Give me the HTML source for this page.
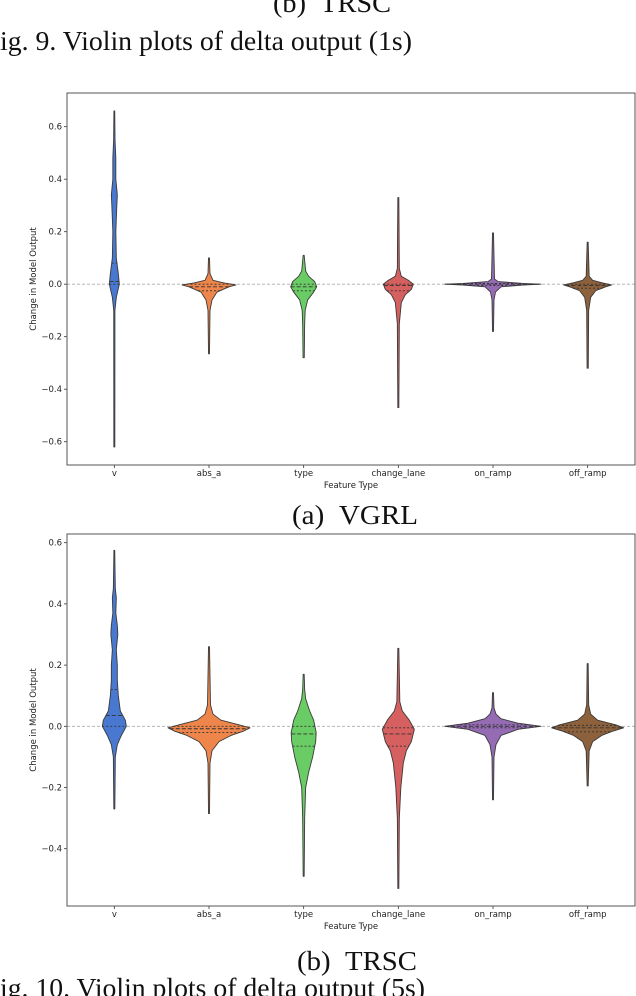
<!DOCTYPE html>
<html><head><meta charset="utf-8">
<style>
html,body{margin:0;padding:0;background:#fff;}
svg{display:block;}
.tick{font-family:"DejaVu Sans","Liberation Sans",sans-serif;font-size:8.5px;fill:#222;}
.cap{font-family:"Liberation Serif",serif;fill:#111;}
</style></head>
<body>
<svg id="fig" width="636" height="996" viewBox="0 0 636 996" xmlns="http://www.w3.org/2000/svg">
<text class="cap" x="273" y="12" font-size="27" textLength="118" lengthAdjust="spacingAndGlyphs">(b)&#160;&#160;TRSC</text>
<text class="cap" x="0" y="50" font-size="27" textLength="412" lengthAdjust="spacingAndGlyphs">ig. 9. Violin plots of delta output (1s)</text>
<text class="cap" x="292" y="524" font-size="27" textLength="126" lengthAdjust="spacingAndGlyphs">(a)&#160;&#160;VGRL</text>
<text class="cap" x="297" y="970" font-size="27" textLength="120" lengthAdjust="spacingAndGlyphs">(b)&#160;&#160;TRSC</text>
<text class="cap" x="0" y="997" font-size="27" textLength="425" lengthAdjust="spacingAndGlyphs">ig. 10. Violin plots of delta output (5s)</text>
<g id="p1"></g>
<g id="p2"></g>
</svg>
<script>
const categories = ["v","abs_a","type","change_lane","on_ramp","off_ramp"];
const colors = ["#4878d0","#ee854a","#6acc64","#d65f5f","#956cb4","#8c613c"];
// Plot 1 (VGRL, 1s): violin profiles [value, half-width]
const vgrlTicks = [-0.6,-0.4,-0.2,0.0,0.2,0.4,0.6];
const vgrlV = [[-0.62,0.5],[-0.1,0.6],[-0.05,2],[0,5],[0.04,4],[0.1,2],[0.2,1.5],[0.3,2.5],[0.34,3],[0.4,1.5],[0.48,1.5],[0.55,0.7],[0.66,0.4]];
const vgrlAbsA = [[-0.265,0.5],[-0.1,1],[-0.06,3],[-0.03,8],[-0.01,20],[-0.003,27],[0.005,15],[0.015,4],[0.04,1],[0.1,0.5]];
const vgrlType = [[-0.28,0.6],[-0.15,1],[-0.1,1.5],[-0.06,4],[-0.03,10],[-0.01,13],[0.01,11],[0.03,5],[0.05,2],[0.11,0.5]];
const vgrlChange = [[-0.47,0.5],[-0.15,1],[-0.07,3],[-0.04,7],[-0.02,13],[0,15],[0.015,10],[0.03,3],[0.06,1],[0.33,0.5]];
const vgrlOn = [[-0.18,0.5],[-0.06,1],[-0.03,2.5],[-0.01,8],[-0.003,30],[0,48],[0.003,30],[0.01,5],[0.02,1.5],[0.195,0.5]];
const vgrlOff = [[-0.32,0.6],[-0.1,1],[-0.05,3],[-0.025,8],[-0.01,18],[-0.003,24],[0.005,15],[0.015,5],[0.03,1.5],[0.16,0.5]];
const vgrlQuart = [[0.0,0.01,0.08],[-0.025,-0.01,0],[-0.025,-0.01,0],[-0.025,-0.005,0],[-0.005,0,0.003],[-0.015,-0.005,0]];
// Plot 2 (TRSC, 5s)
const trscTicks = [-0.4,-0.2,0.0,0.2,0.4,0.6];
const trscV = [[-0.27,0.5],[-0.1,1],[-0.06,3],[-0.03,7],[0,12],[0.02,11],[0.05,6],[0.1,4],[0.15,3],[0.2,3],[0.25,2],[0.3,3.5],[0.33,3],[0.37,1.5],[0.42,2],[0.45,1],[0.575,0.4]];
const trscAbsA = [[-0.285,0.5],[-0.12,1],[-0.08,3],[-0.05,10],[-0.03,22],[-0.015,35],[-0.005,41],[0.005,30],[0.02,12],[0.04,4],[0.07,1.5],[0.26,0.5]];
const trscType = [[-0.49,0.5],[-0.3,1],[-0.2,2],[-0.15,5],[-0.1,9],[-0.05,12],[-0.02,12.5],[0.02,10],[0.05,6],[0.09,2],[0.12,1],[0.17,0.5]];
const trscChange = [[-0.53,0.5],[-0.3,1],[-0.2,2.5],[-0.12,5],[-0.08,8],[-0.05,13],[-0.01,16],[0.02,11],[0.05,4],[0.08,1.5],[0.255,0.5]];
const trscOn = [[-0.24,0.5],[-0.1,1],[-0.06,3],[-0.03,8],[-0.01,25],[0,48],[0.01,25],[0.025,8],[0.04,3],[0.06,1],[0.11,0.5]];
const trscOff = [[-0.195,0.5],[-0.08,1.5],[-0.05,5],[-0.03,14],[-0.015,26],[-0.005,36],[0.005,28],[0.02,10],[0.04,3],[0.07,1],[0.205,0.5]];
const trscQuart = [[0.0,0.035,0.12],[-0.02,-0.008,0],[-0.065,-0.025,0],[-0.065,-0.025,-0.005],[-0.005,0,0.005],[-0.018,-0.005,0.003]];

const NS="http://www.w3.org/2000/svg";
function mk(tag,attrs,parent){const e=document.createElementNS(NS,tag);for(const k in attrs)e.setAttribute(k,attrs[k]);parent.appendChild(e);return e;}

function drawPlot(g, top, bottom, zeroY, pxPerUnit, ticks, profiles, quarts, prefix){
  const left=67,right=635;
  const y=v=>zeroY - v*pxPerUnit;
  const band=(right-left)/categories.length;
  const x=i=>left+band*(i+0.5);
  const zl=mk('line',{x1:left,x2:right,y1:y(0),y2:y(0),stroke:'#aaa','stroke-width':0.8,'stroke-dasharray':'3,2'},g);
  
  
  profiles.forEach((prof,i)=>{
    const cx=x(i);
    const rs=prof.map(p=>[cx+p[1],y(p[0])]);
    const ls=prof.slice().reverse().map(p=>[cx-p[1],y(p[0])]);
    const pts=rs.concat(ls);
    let d='M'+pts[0][0]+','+pts[0][1];
    for(let k=1;k<pts.length;k++)d+=' L'+pts[k][0].toFixed(2)+','+pts[k][1].toFixed(2);
    d+='Z';
    const v=mk('path',{d:d,fill:colors[i],stroke:'#3a3a3a','stroke-width':0.9,'stroke-linejoin':'round'},g);
    
    
    quarts[i].forEach((q,j)=>{
      let w=0;
      for(let k=0;k<prof.length-1;k++){if(q>=prof[k][0]&&q<=prof[k+1][0]){const t=(q-prof[k][0])/((prof[k+1][0]-prof[k][0])||1);w=prof[k][1]+t*(prof[k+1][1]-prof[k][1]);}}
      const ql=mk('line',{x1:cx-w,x2:cx+w,y1:y(q),y2:y(q),stroke:'#333','stroke-width':0.9,'stroke-dasharray':j===1?'4,2':'2,2'},g);
      
      
    });
    const tk=mk('line',{x1:cx,x2:cx,y1:bottom,y2:bottom+3,stroke:'#333','stroke-width':0.8},g);
    
    
    const t=mk('text',{x:cx,y:bottom+11,'text-anchor':'middle','class':'tick'},g);
    t.textContent=categories[i];
    
    
  });
  ticks.forEach(tv=>{
    const tk=mk('line',{x1:left-3,x2:left,y1:y(tv),y2:y(tv),stroke:'#333','stroke-width':0.8},g);
    
    
    const t=mk('text',{x:left-5,y:y(tv)+3,'text-anchor':'end','class':'tick'},g);
    t.textContent=(tv<0?'\u2212':'')+Math.abs(tv).toFixed(1);
    
    
  });
  const fr=mk('rect',{x:left,y:top,width:right-left,height:bottom-top,fill:'none',stroke:'#555','stroke-width':1},g);
  
  
  const xt=mk('text',{x:(left+right)/2,y:bottom+23,'text-anchor':'middle','class':'tick','font-size':'9.5'},g);
  xt.textContent='Feature Type';
  
  
  const yc=(top+bottom)/2;
  const yt=mk('text',{x:36,y:yc,'text-anchor':'middle','class':'tick','font-size':'9.5',transform:'rotate(-90 36 '+yc+')'},g);
  yt.textContent='Change in Model Output';
  
  
}
drawPlot(document.getElementById('p1'),93,465,284.2,262.5,vgrlTicks,[vgrlV,vgrlAbsA,vgrlType,vgrlChange,vgrlOn,vgrlOff],vgrlQuart,'vgrl');
drawPlot(document.getElementById('p2'),534,906,726.3,306,trscTicks,[trscV,trscAbsA,trscType,trscChange,trscOn,trscOff],trscQuart,'trsc');
</script>
</body></html>
